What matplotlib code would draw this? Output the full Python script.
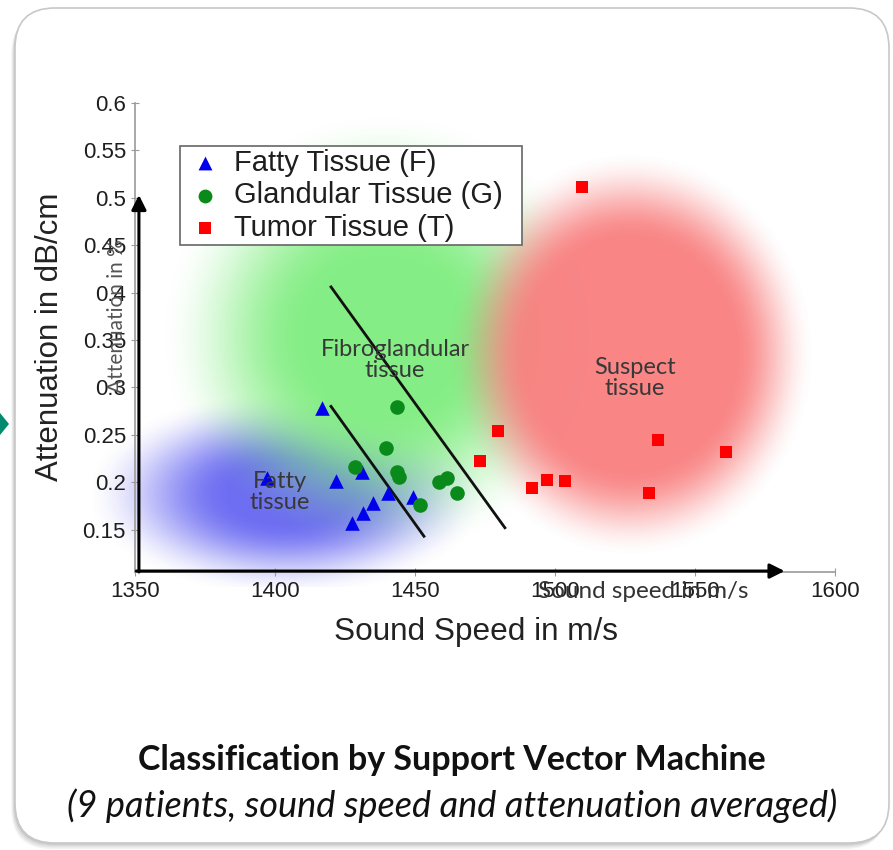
import numpy as np
import matplotlib
matplotlib.use("Agg")
import matplotlib.pyplot as plt
from matplotlib.patches import FancyBboxPatch, Polygon

# --- data ---
fatty_speed = [1397.1, 1416.8, 1421.8, 1431.1, 1440.4, 1449.3, 1435.0, 1431.4, 1427.5]
fatty_att = [0.204, 0.278, 0.201, 0.211, 0.189, 0.184, 0.178, 0.168, 0.157]

gland_speed = [1443.6, 1439.6, 1428.6, 1443.6, 1444.3, 1458.6, 1461.4, 1465.0, 1451.8]
gland_att = [0.279, 0.236, 0.216, 0.211, 0.205, 0.200, 0.204, 0.189, 0.176]

tumor_speed = [1509.6, 1479.6, 1473.2, 1491.8, 1497.1, 1503.6, 1533.6, 1536.8, 1561.1]
tumor_att = [0.511, 0.254, 0.222, 0.194, 0.202, 0.201, 0.189, 0.245, 0.232]

# SVM separating lines (speed, attenuation) end points
svm_lines = [
    ([1420.0, 1482.1], [0.406, 0.152]),
    ([1420.0, 1453.2], [0.280, 0.143]),
]

xticks = [1350, 1400, 1450, 1500, 1550, 1600]
yticks = [0.15, 0.2, 0.25, 0.3, 0.35, 0.4, 0.45, 0.5, 0.55, 0.6]

# region blobs: centre x, centre y, radius x, radius y, colour, fade start, fade end
blobs = [
    (1404.0, 0.188, 66, 0.100, (0.40, 0.40, 0.95), 0.30, 1.10),
    (1439.0, 0.355, 70, 0.205, (0.50, 0.93, 0.50), 0.40, 1.15),
    (1527.0, 0.335, 60, 0.195, (0.98, 0.50, 0.50), 0.62, 1.10),
]

W, H = 893, 850
fig = plt.figure(figsize=(W / 100, H / 100), dpi=100)

# background card
bg = fig.add_axes([0, 0, 1, 1])
bg.set_xlim(0, W)
bg.set_ylim(H, 0)
bg.axis("off")
for i, a in enumerate([0.05, 0.05, 0.06, 0.08]):
    off = 6 - i * 1.5
    bg.add_patch(FancyBboxPatch((15 - off * 0.6, 8 + off), 874, 835,
                                boxstyle="round,pad=0,rounding_size=40",
                                fc="black", ec="none", alpha=a))
bg.add_patch(FancyBboxPatch((15, 8), 874, 835,
                            boxstyle="round,pad=0,rounding_size=40",
                            fc="white", ec="#c8c8c8", lw=1.2))
bg.add_patch(Polygon([(0, 413), (9, 424), (0, 435)], closed=True, fc="#008a6e", ec="none"))

# main axes
ax = fig.add_axes([135 / W, (H - 572) / H, 700 / W, 469 / H])
ax.set_facecolor("none")
xlim = (1350, 1600)
ylim = (0.1053, 0.6)

# soft colour blobs
gx = np.linspace(1335, 1600, 700)
gy = np.linspace(0.09, 0.6, 600)
X, Y = np.meshgrid(gx, gy)
for cx, cy, rx, ry, col, f0, f1 in blobs:
    r = np.sqrt(((X - cx) / rx) ** 2 + ((Y - cy) / ry) ** 2)
    t = np.clip((r - f0) / (f1 - f0), 0, 1)
    alpha = 0.95 * (1 - t * t * (3 - 2 * t))
    img = np.zeros(X.shape + (4,))
    img[..., 0], img[..., 1], img[..., 2] = col
    img[..., 3] = alpha
    ax.imshow(img, extent=(gx[0], gx[-1], gy[0], gy[-1]), origin="lower",
              aspect="auto", zorder=0, clip_on=False, interpolation="bilinear")

for xs, ys in svm_lines:
    ax.plot(xs, ys, color="#111111", lw=2, zorder=2)

ax.scatter(fatty_speed, fatty_att, marker="^", s=110, color="#0000ee", zorder=3,
           label="Fatty Tissue (F)", linewidths=0)
ax.scatter(gland_speed, gland_att, marker="o", s=110, color="#0a8a1a", zorder=3,
           label="Glandular Tissue (G)", linewidths=0)
ax.scatter(tumor_speed, tumor_att, marker="s", s=75, color="#ff0000", zorder=3,
           label="Tumor Tissue (T)", linewidths=0)

ax.set_xlim(*xlim)
ax.set_ylim(*ylim)
ax.set_xticks(xticks)
ax.set_yticks(yticks)
ax.set_yticklabels([f"{v:g}" for v in yticks])
for s in ["top", "right"]:
    ax.spines[s].set_visible(False)
for s in ["left", "bottom"]:
    ax.spines[s].set_color("#9a9a9a")
    ax.spines[s].set_linewidth(1.2)
ax.tick_params(direction="inout", length=6, color="#9a9a9a", labelsize=16,
               labelcolor="#1e1e1e")
for lab in ax.get_xticklabels() + ax.get_yticklabels():
    lab.set_family("Liberation Sans")

ax.set_xlabel("Sound Speed in m/s", fontsize=22.7, family="Liberation Sans",
              color="#222222")
ax.xaxis.set_label_coords(0.487, -0.096)
ax.set_ylabel("Attenuation in dB/cm", fontsize=22.5, family="Liberation Sans",
              color="#222222")
ax.yaxis.set_label_coords(-0.1, 0.501)

# overlaid sketch axes
ax.annotate("", xy=(1351.4, 0.503), xytext=(1351.4, ylim[0]),
            arrowprops=dict(arrowstyle="-|>", color="black", lw=2.2, mutation_scale=22,
                            shrinkA=0, shrinkB=0), annotation_clip=False, zorder=4)
ax.annotate("", xy=(1582.0, ylim[0] + 0.001), xytext=(1350.5, ylim[0] + 0.001),
            arrowprops=dict(arrowstyle="-|>", color="black", lw=2.2, mutation_scale=22,
                            shrinkA=0, shrinkB=0), annotation_clip=False, zorder=4)

ax.text(1343.6, 0.375, "Attenuation in %", rotation=90, ha="center", va="center",
        fontsize=15, family="Lato", color="#555555", clip_on=False)
ax.text(1531.4, ylim[0] - 0.021, "Sound speed in m/s", ha="center", va="center",
        fontsize=17.5, family="Lato", color="#333333", clip_on=False)

txt = dict(ha="center", va="center", fontsize=17, family="Lato", color="#383838",
           linespacing=1.0, zorder=5)
ax.text(1442.9, 0.329, "Fibroglandular\ntissue", **txt)
ax.text(1528.6, 0.310, "Suspect\ntissue", **txt)
ax.text(1401.8, 0.190, "Fatty\ntissue", **txt)

leg = ax.legend(loc="upper left", bbox_to_anchor=(0.064, 0.908 - 0.21, 0.489, 0.21),
                mode="expand", borderaxespad=0,
                fancybox=False, edgecolor="#666666", framealpha=1,
                prop={"family": "Liberation Sans", "size": 21},
                handlelength=1.5, handletextpad=0.25, labelspacing=0.15,
                borderpad=0.1, markerscale=0.95)
leg.get_frame().set_linewidth(1.2)
leg.set_zorder(6)
for t in leg.get_texts():
    t.set_color("#1e1e1e")

fig.text(0.506, 1 - 760 / H, "Classification by Support Vector Machine",
         ha="center", va="center", fontsize=24.5, fontweight="bold", family="Lato",
         color="#111111")
fig.text(0.506, 1 - 806 / H, "(9 patients, sound speed and attenuation averaged)",
         ha="center", va="center", fontsize=26, style="italic", family="Lato",
         color="#111111")

fig.savefig("out.png", dpi=100)
